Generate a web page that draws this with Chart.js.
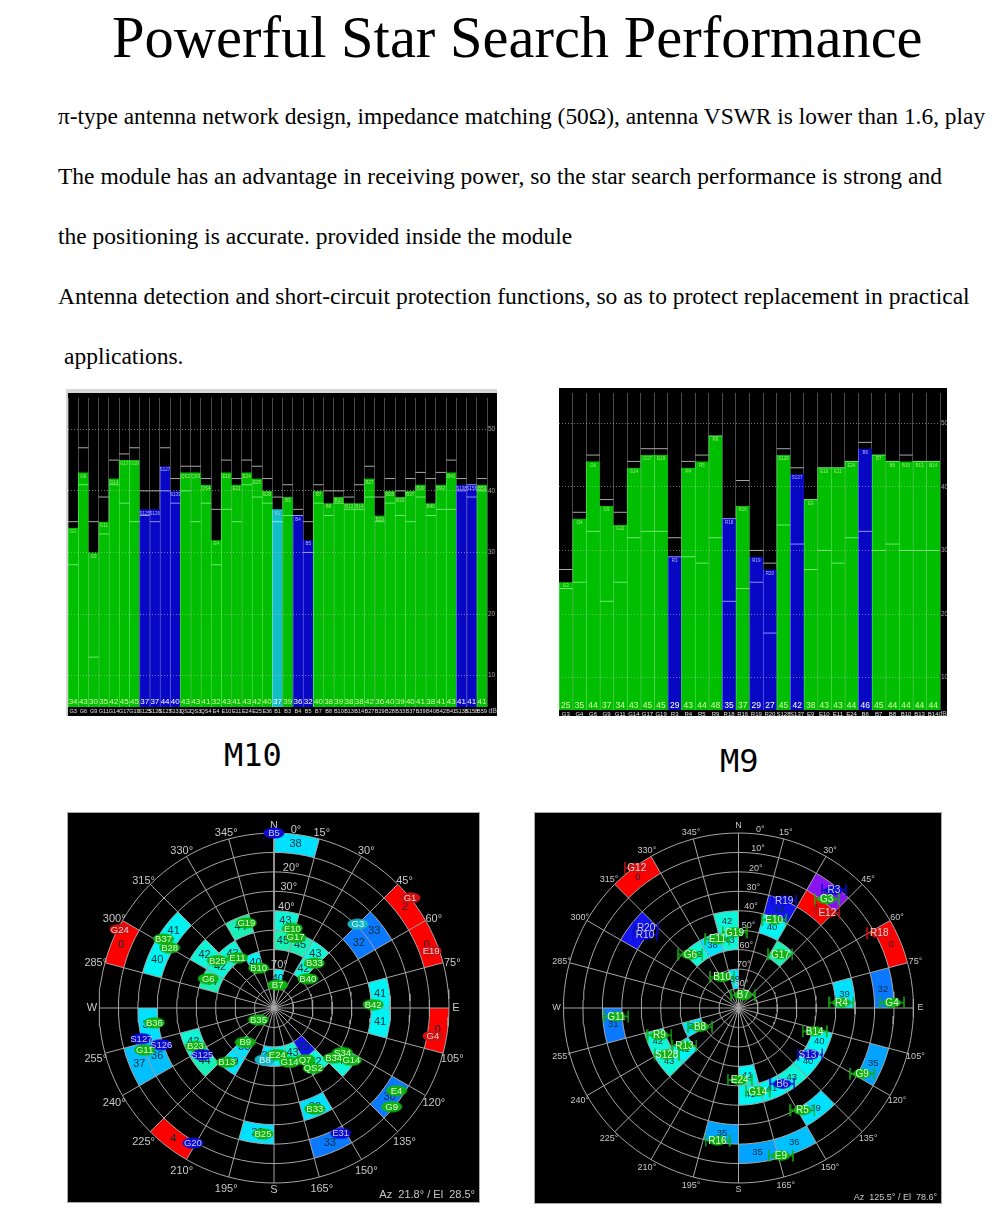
<!DOCTYPE html>
<html>
<head>
<meta charset="utf-8">
<title>Powerful Star Search Performance</title>
<script src="https://cdn.jsdelivr.net/npm/chart.js@4"></script>
<style>
  html, body { margin: 0; background: #fff; }
  body { position: relative; width: 1000px; height: 1223px; overflow: hidden; font-family: "Liberation Serif", serif; color: #000; }
  .t { position: absolute; white-space: pre; line-height: 1; }
  #title { left: 112px; top: 9px; font-size: 58.5px; }
  .line { left: 58px; font-size: 23.5px; }
  .cap { font-family: "DejaVu Sans Mono", monospace; font-size: 32px; }
  .frame { position: absolute; background: #000; }
  canvas { position: absolute; display: block; background: #000; }
</style>
</head>
<body>
<div class="t" id="title">Powerful Star Search Performance</div>
<div class="t line" style="top:105px;font-size:23.4px">π-type antenna network design, impedance matching (50Ω), antenna VSWR is lower than 1.6, play</div>
<div class="t line" style="top:165px">The module has an advantage in receiving power, so the star search performance is strong and</div>
<div class="t line" style="top:225px">the positioning is accurate. provided inside the module</div>
<div class="t line" style="top:285px">Antenna detection and short-circuit protection functions, so as to protect replacement in practical</div>
<div class="t line" style="top:345px;left:64px">applications.</div>
<div class="t cap" style="left:224px;top:739px">M10</div>
<div class="t cap" style="left:720px;top:745px">M9</div>

<div class="frame" style="left:66px;top:389px;width:431px;height:327px;background:#d6d6d6"></div>
<canvas id="m10-bars" width="429" height="323" style="left:68px;top:393px"></canvas>
<canvas id="m9-bars" width="388" height="328" style="left:559px;top:388px"></canvas>

<div class="frame" style="left:67px;top:812px;width:413px;height:391px;background:#a8a8a8"></div>
<canvas id="m10-sky" width="411" height="389" style="left:68px;top:813px"></canvas>
<div class="frame" style="left:534px;top:812px;width:408px;height:392px;background:#a8a8a8"></div>
<canvas id="m9-sky" width="406" height="390" style="left:535px;top:813px"></canvas>

<script>
// ── M10 signal bars ───────────────────────────────────────
const m10Names = ['G3','G6','G9','G11','G14','G17','G19','S125','S126','S127','S133','QS2','QS3','QS4','E4','E10','E11','E24','E25','E36','B1',
                  'B3','B4','B5','B7','B8','B10','B13','B14','B27','B29','B28','B33','B37','B39','B40','B42','B41','S138','S158','B59'];
const m10Snr   = [34,43,30,35,42,45,45,37,37,44,40,43,43,41,32,43,41,43,42,40,37,
                  39,36,32,40,38,39,38,38,42,36,40,39,40,41,38,41,43,41,41,41];
const m10Upper = [35,47,35,39,45,46,47,40,40,47,42,44,44,42,37,45,42,45,44,42,39,
                  41,37,35,41,40,40,39,41,44,39,42,40,42,43,42,43,45,42,41,42];
const m10Lower = [28,41,13,33,41,38,35,36,35,40,38,40,35,38,28,37,35,41,39,38,35,
                  36,36,30,38,36,38,37,37,39,35,38,36,35,39,36,37,37,40,39,40];
const m10State = ['g','g','g','g','g','g','g','b','b','b','b','g','g','g','g','g','g','g','g','g','t',
                  'g','b','b','g','g','g','g','g','g','g','g','g','g','g','g','g','g','b','b','g'];

// ── M9 signal bars ────────────────────────────────────────
const m9Names = ['G3','G4','G6','G9','G11','G14','G17','G19','R3','R4','R5','R9','R18','R16',
                 'R19','R20','S128','S137','E9','E10','E11','E24','B6','B7','B8','B10','B13','B14'];
const m9Snr   = [25,35,44,37,34,43,45,45,29,43,44,48,35,37,29,27,45,42,38,43,43,44,46,45,44,44,44,44];
const m9Upper = [27,36,45,38,36,44,46,46,32,44,45,48,35,41,30,28,46,43,38,43,43,44,47,45,44,45,44,44];
const m9Lower = [24,25,33,22,25,32,33,33,29,29,28,32,22,24,25,17,34,31,27,30,28,32,33,30,31,30,30,30];
const m9State = ['g','g','g','g','g','g','g','g','b','g','g','g','b','g','b','b','g','b','g','g','g','g','b','g','g','g','g','g'];

// ── Sky plot cells: azimuth sector start, elevation band (x10 deg), SNR ──
const m10CellAz   = [0,45,60,45,45,75,90,90,30,15,0,0,30,0,330,300,300,285,315,330,300,285,285,255,240,240,240,225,210,210,180,210,180,165,150,135,135,120,150,150,120];
const m10CellBand = [0,0,0,2,3,3,3,0,5,5,5,4,6,7,4,4,5,5,5,6,2,2,0,2,2,1,4,4,5,6,2,0,6,6,6,6,5,4,3,1,1];
const m10CellSnr  = [38,2,0,33,32,41,41,0,43,45,45,43,42,40,44,42,42,44,43,40,41,40,0,38,36,37,42,44,39,38,38,4,39,41,43,23,42,42,39,33,30];

const m9CellAz   = [315,300,345,345,330,315,345,30,30,15,15,30,60,75,75,255,240,225,225,240,180,105,120,135,150,165,165,135,105,150,165];
const m9CellBand = [0,2,4,5,5,5,7,1,2,3,4,5,0,1,3,2,4,4,5,6,2,4,4,4,4,4,5,2,1,1,1];
const m9CellSnr  = [0,27,42,43,38,42,39,15,2,24,40,44,0,32,39,31,42,43,41,39,35,40,40,43,41,41,41,39,35,36,35];

// ── Sky plot satellites: name, azimuth, elevation, state ──
const m10SatNames = ['B5','G24','B37','B28','G19','B25','E11','B10','G6','G1','E19','G3','E10','G17','B33','B40','B7','B42','B36','B35','B9','S127','S126','G11','B23','S125','B13','B25','G20','B8','E24','G14','Q7','QS2','B34','S34','G14','B33','E31','E4','G9','G4'];
const m10SatAz    = [0,297,302,300,342,310,324,339,294,51,70,45,13,17,42,49,9,88,263,233,220,257,252,252,244,237,221,185,211,190,176,164,149,147,130,123,124,158,152,124,130,100];
const m10SatEl    = [0,1,23,28,44,52,58,68,53,0,4,29,48,52,59,67,78,39,28,80,67,20,29,20,45,46,53,25,9,63,66,61,59,53,50,48,42,34,17,14,11,7];
const m10SatState = ['b','r','g','g','g','g','g','g','g','r','r','t','g','g','g','g','g','g','g','g','g','b','b','g','g','b','g','g','b','t','g','g','g','g','g','g','g','g','b','g','g','r'];

const m9SatNames = ['G12','R20','R10','G6','E11','G19','B10','R3','G3','E12','R19','E10','G17','B7','R18','R4','G4','G11','B8','R9','R13','S128','R16','B14','S137','G9','B6','G14','E24','R5','E9'];
const m9SatAz    = [324,311,308,318,343,357,332,39,39,43,23,22,38,19,62,87,88,266,244,251,235,237,189,107,123,118,150,167,179,148,164];
const m9SatEl    = [1,27,29,53,53,51,72,12,18,23,30,41,55,83,8,37,11,27,68,47,56,46,21,49,46,18,45,46,53,28,11];
const m9SatState = ['r','b','b','g','g','g','g','b','g','r','b','g','g','g','r','g','g','g','g','g','g','g','g','g','b','g','b','g','g','g','g'];

// Axis text
const azLabels  = [15,30,45,60,75,105,120,135,150,165,195,210,225,240,255,285,300,315,330,345];
const compass   = ['N','E','S','W'];
const m10ElTicks = [0,20,30,40,70];
const m9ElTicks  = [0,10,20,30,40,50,60,70,80];

Chart.defaults.animation = false;
Chart.defaults.font.family = '"Liberation Sans", Arial, sans-serif';

const BAR_FILL = { g: '#00bf00', b: '#0808c4', t: '#10c0c4' };
const BAR_EDGE = { g: '#48dc48', b: '#5a5ae8', t: '#60e4e4' };
const BAR_MARK = { g: '#70e870', b: '#9090ff', t: '#90f0f0' };

function barChart(id, names, snr, upper, lower, state, opts) {
  const markColor = ctx => {
    const i = ctx.dataIndex;
    return ctx.raw > snr[i] ? '#a8a8a8' : BAR_MARK[state[i]];
  };
  const marks = values => ({
    type: 'line',
    data: values,
    order: 0,
    showLine: false,
    pointStyle: 'line',
    pointRadius: opts.barWidth / 2,
    pointBorderWidth: 1,
    pointBorderColor: markColor,
  });

  const barText = {
    id: 'barText',
    afterDatasetsDraw(chart) {
      const { ctx, chartArea } = chart;
      const bars = chart.getDatasetMeta(2).data;
      ctx.save();
      ctx.textAlign = 'center';
      ctx.textBaseline = 'middle';
      bars.forEach((bar, i) => {
        ctx.fillStyle = state[i] === 'g' ? '#d8f8a8' : '#ffffff';
        ctx.font = opts.valueFont + 'px "Liberation Sans"';
        ctx.fillText(String(snr[i]), bar.x, opts.valueY);
        ctx.fillStyle = state[i] === 'g' ? '#a0e878' : '#b8b8f8';
        ctx.font = '4.5px "Liberation Sans"';
        ctx.fillText(names[i], bar.x, bar.y + 4);
      });
      ctx.fillStyle = '#c0c0c0';
      ctx.font = '7px "Liberation Sans"';
      ctx.textAlign = 'right';
      ctx.fillText('dB', chart.width, chartArea.bottom + 4);
      ctx.restore();
    },
  };

  return new Chart(document.getElementById(id), {
    data: {
      labels: names,
      datasets: [
        marks(upper),
        marks(lower),
        {
          type: 'bar',
          data: snr,
          order: 1,
          barPercentage: 1,
          categoryPercentage: 1,
          backgroundColor: state.map(s => BAR_FILL[s]),
          borderColor: state.map(s => BAR_EDGE[s]),
          borderWidth: { left: 1, right: 0, top: 0, bottom: 0 },
        },
      ],
    },
    options: {
      responsive: false,
      layout: { padding: 0, autoPadding: false },
      plugins: { legend: { display: false }, tooltip: { enabled: false } },
      scales: {
        x: {
          offset: true,
          grid: { color: '#4a4a4a', drawTicks: false, offset: true },
          border: { display: false },
          ticks: { color: '#e0e0e0', font: { size: opts.tickFont }, autoSkip: false, maxRotation: 0, padding: 1 },
          afterFit(s) { s.height = opts.stripHeight; },
        },
        y: {
          position: 'right',
          min: opts.min,
          max: opts.max,
          grid: { color: 'rgba(190,190,190,0.6)', drawTicks: false, z: 1 },
          border: { display: false, dash: [1, 2] },
          ticks: { color: '#a0a0a0', font: { size: 6.5 }, stepSize: 10, includeBounds: false, padding: 1 },
          afterFit(s) { s.width = opts.axisWidth; },
        },
      },
    },
    plugins: [barText],
  });
}

// ── Sky plot ──────────────────────────────────────────────

const PX_PER_DEG = 175 / 90;

function skyPoint(az, el) {
  const a = az * Math.PI / 180;
  return { x: (90 - el) * Math.sin(a), y: (90 - el) * Math.cos(a) };
}

function cellOutline(az, band) {
  const pts = [];
  for (let a = az; a <= az + 15; a += 3) pts.push(skyPoint(a, band * 10));
  for (let a = az + 15; a >= az; a -= 3) pts.push(skyPoint(a, band * 10 + 10));
  pts.push(pts[0]);
  return pts;
}

function snrColor(v) {
  if (v < 10) return '#ff0000';
  if (v < 20) return '#8a14f0';
  if (v < 30) return '#1414ee';
  if (v < 34) return '#0a78ff';
  if (v < 36) return '#00a4ff';
  if (v < 38) return '#00c0ff';
  if (v < 40) return '#00e0ff';
  if (v < 42) return '#00f4f4';
  if (v < 44) return '#10f4d8';
  return '#18f0b8';
}

const SAT_FILL = { g: '#12b012', b: '#0c0cd0', r: '#cc1212', t: '#14b4c4' };
const SAT_TEXT = { g: '#d8ffd0', b: '#c8c8ff', r: '#ffc8c8', t: '#d8ffff' };

function satSprite(state, whisker) {
  const c = document.createElement('canvas');
  c.width = whisker ? 26 : 22;
  c.height = whisker ? 14 : 12;
  const g = c.getContext('2d');
  const cx = c.width / 2, cy = c.height / 2;
  g.fillStyle = g.strokeStyle = SAT_FILL[state];
  if (whisker) {
    g.lineWidth = 1.5;
    g.beginPath();
    g.moveTo(1, cy); g.lineTo(c.width - 1, cy);
    g.moveTo(1, 1); g.lineTo(1, c.height - 1);
    g.moveTo(c.width - 1, 1); g.lineTo(c.width - 1, c.height - 1);
    g.stroke();
  }
  g.beginPath();
  g.ellipse(cx, cy, whisker ? 9 : 10.5, whisker ? 5 : 5.5, 0, 0, Math.PI * 2);
  g.fill();
  return c;
}

function skyChart(id, cfg) {
  const sprites = {};
  ['g', 'b', 'r', 't'].forEach(s => { sprites[s] = satSprite(s, cfg.whisker); });

  const grid = [];
  for (let el = 0; el < 90; el += 10) {
    const ring = [];
    for (let a = 0; a <= 360; a += 3) ring.push(skyPoint(a, el));
    grid.push(ring);
  }
  for (let a = 0; a < 360; a += 15) grid.push([skyPoint(a, 0), skyPoint(a, 90)]);

  const gridSets = grid.map(data => ({
    data, showLine: true, pointRadius: 0, borderColor: '#a6a6a6', borderWidth: 1, fill: false,
  }));
  const cellSets = cfg.cellAz.map((az, i) => ({
    data: cellOutline(az, cfg.cellBand[i]),
    showLine: true, pointRadius: 0, borderWidth: 0,
    borderColor: 'transparent',
    backgroundColor: snrColor(cfg.cellSnr[i]),
    fill: 'shape',
  }));
  const satSet = {
    data: cfg.satAz.map((az, i) => skyPoint(az, cfg.satEl[i])),
    pointRadius: 6,
    pointStyle: ctx => sprites[cfg.satState[ctx.dataIndex]],
  };

  const skyText = {
    id: 'skyText',
    // dataset 0 (satellites) is drawn last, so this text lies just below it
    beforeDatasetDraw(chart, args) {
      if (args.index !== 0) return;
      const { ctx, scales } = chart;
      const put = (text, az, el, drop = 0) => {
        const p = skyPoint(az, el);
        ctx.fillText(text, scales.x.getPixelForValue(p.x), scales.y.getPixelForValue(p.y) + drop);
      };
      ctx.save();
      ctx.textAlign = 'center';
      ctx.textBaseline = 'middle';
      ctx.fillStyle = '#00303c';
      ctx.font = cfg.cellFont + 'px "Liberation Sans"';
      cfg.cellAz.forEach((az, i) => put(String(cfg.cellSnr[i]), az + 7.5, cfg.cellBand[i] * 10 + 5));
      ctx.fillStyle = '#c8c8c8';
      ctx.font = cfg.axisFont + 'px "Liberation Sans"';
      azLabels.forEach(a => put(a + '°', a, cfg.azOut, cfg.azDrop));
      compass.forEach((c, i) => put(c, i * 90, -3.6));
      cfg.elTicks.forEach(e => put(e + '°', 7, e - 2.5));
      ctx.textAlign = 'right';
      ctx.fillText(cfg.readout, chart.width - 4, chart.height - cfg.readoutUp);
      ctx.restore();
    },
    afterDatasetsDraw(chart) {
      const { ctx } = chart;
      const pts = chart.getDatasetMeta(0).data;
      ctx.save();
      ctx.textAlign = 'center';
      ctx.textBaseline = 'middle';
      ctx.font = cfg.satFont + 'px "Liberation Sans"';
      pts.forEach((pt, i) => {
        ctx.fillStyle = SAT_TEXT[cfg.satState[i]];
        ctx.fillText(cfg.satNames[i], pt.x, pt.y + 0.5);
      });
      ctx.restore();
    },
  };

  const el = document.getElementById(id);
  return new Chart(el, {
    type: 'scatter',
    data: { datasets: [satSet, ...gridSets, ...cellSets] },
    options: {
      responsive: false,
      layout: { padding: 0, autoPadding: false },
      plugins: { legend: { display: false }, tooltip: { enabled: false } },
      scales: {
        x: { type: 'linear', display: false, min: -cfg.left / PX_PER_DEG, max: (el.width - cfg.left) / PX_PER_DEG },
        y: { type: 'linear', display: false, min: -(el.height - cfg.top) / PX_PER_DEG, max: cfg.top / PX_PER_DEG },
      },
    },
    plugins: [skyText],
  });
}

// ── Init ──────────────────────────────────────────────────

barChart('m10-bars', m10Names, m10Snr, m10Upper, m10Lower, m10State,
  { min: 4.9, max: 55.1, barWidth: 10.2, valueY: 309, valueFont: 8, tickFont: 5.5, stripHeight: 9, axisWidth: 10 });
// range kept off a whole multiple of the step, else the ticks start at min instead of 10
barChart('m9-bars', m9Names, m9Snr, m9Upper, m9Lower, m9State,
  { min: 4.9, max: 54.78, barWidth: 13.5, valueY: 318, valueFont: 8.5, tickFont: 6, stripHeight: 6, axisWidth: 7 });

skyChart('m10-sky', {
  left: 206, top: 195, whisker: false, cellFont: 11, axisFont: 11, satFont: 9.5, readoutUp: 7,
  azOut: -4.9, azDrop: 3,
  readout: 'Az  21.8° / El  28.5°', elTicks: m10ElTicks,
  cellAz: m10CellAz, cellBand: m10CellBand, cellSnr: m10CellSnr,
  satNames: m10SatNames, satAz: m10SatAz, satEl: m10SatEl, satState: m10SatState,
});
skyChart('m9-sky', {
  left: 203.5, top: 195, whisker: true, cellFont: 9.5, axisFont: 9, satFont: 10, readoutUp: 5,
  azOut: -4.2, azDrop: 1,
  readout: 'Az  125.5° / El  78.6°', elTicks: m9ElTicks,
  cellAz: m9CellAz, cellBand: m9CellBand, cellSnr: m9CellSnr,
  satNames: m9SatNames, satAz: m9SatAz, satEl: m9SatEl, satState: m9SatState,
});
</script>
</body>
</html>
